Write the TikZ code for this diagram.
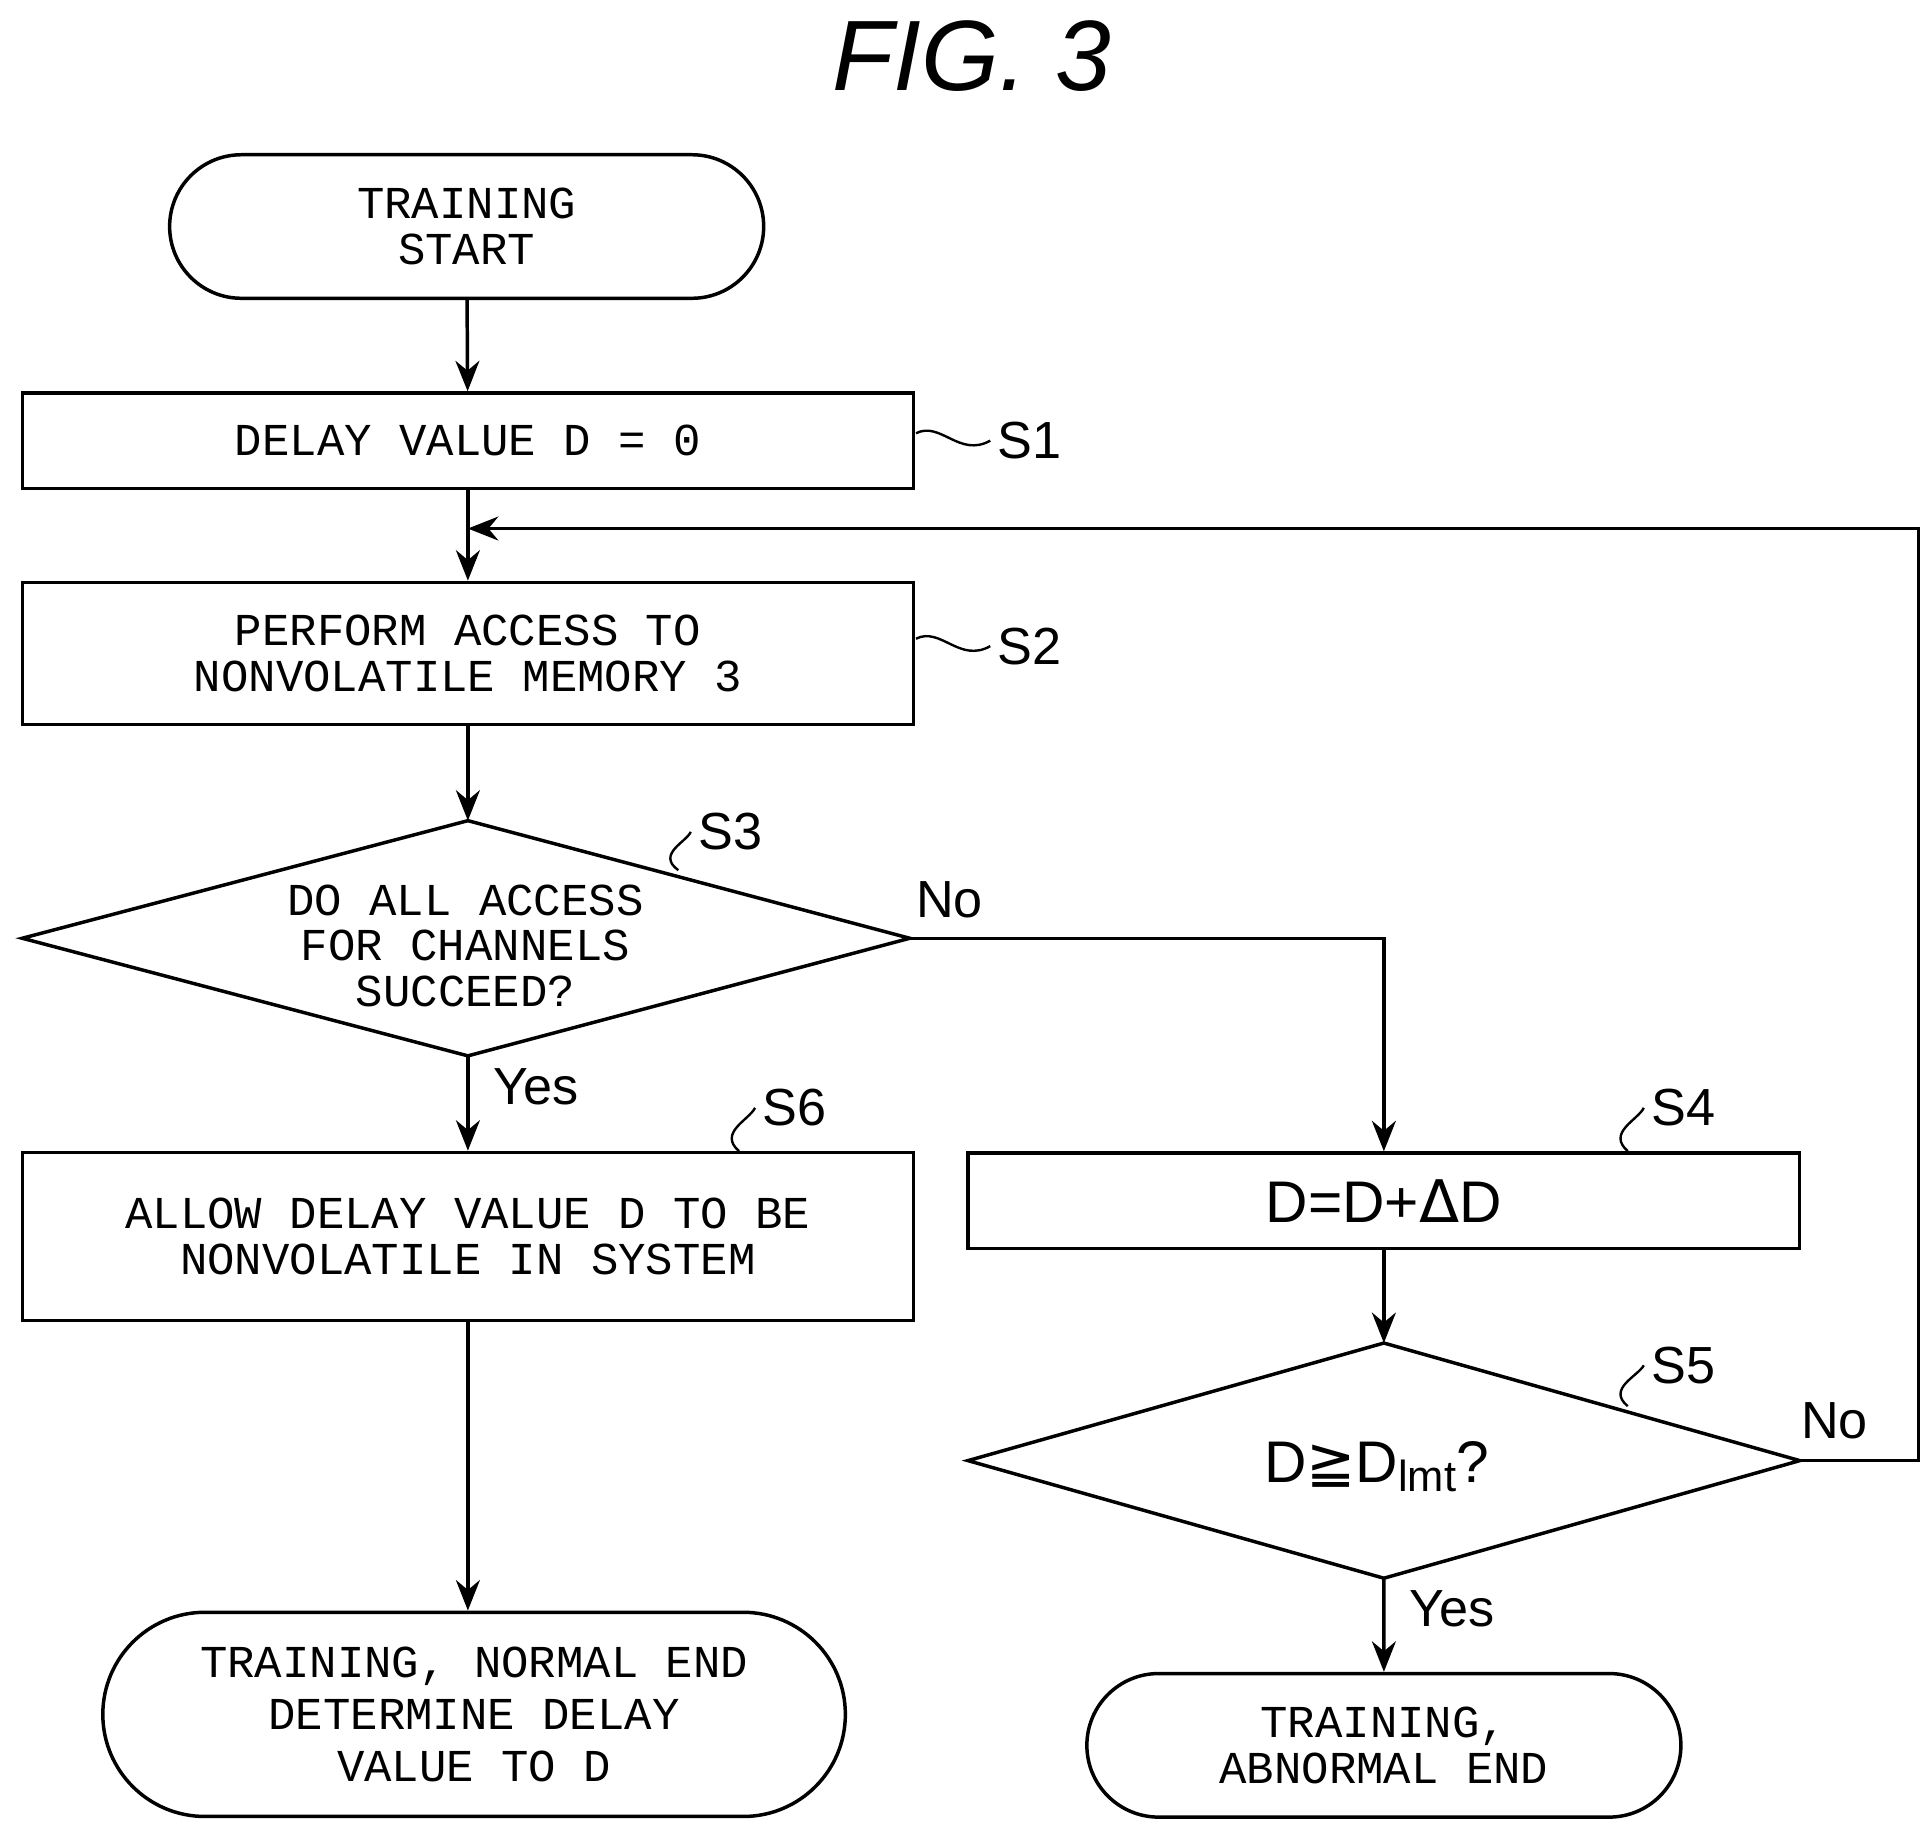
\documentclass[tikz,border=0pt]{standalone}
\usepackage{fontspec}
\setmainfont{Liberation Sans}
\newfontfamily\mono{Liberation Mono}
\newfontfamily\dvs{DejaVu Sans}
\usetikzlibrary{arrows.meta,shapes.misc}
\begin{document}
\begin{tikzpicture}[x=0.02cm,y=-0.02cm,
  box/.style={draw,line width=1.6pt,rectangle,align=center,font=\mono\fontsize{21}{21}\selectfont,inner sep=0pt},
  term/.style={box,rounded rectangle},
  lbl/.style={font=\fontsize{24}{28}\selectfont},
  con/.style={line width=1.6pt,-{Stealth[length=14pt,width=11pt]}},
  lin/.style={line width=1.6pt},
  tl/.style={line width=1.1pt}]
\useasboundingbox (0,0) rectangle (1560,1479);
\node[font=\itshape\fontsize{46}{50}\selectfont] (title) at (785,45) {FIG. 3};
\node[term,minimum width=9.6cm,minimum height=2.32cm] (start) at (377,183) {TRAINING\\START};
\node[box,minimum width=14.4cm,minimum height=1.54cm] (s1) at (378,356) {DELAY  VALUE  D  =  0};
\node[box,minimum width=14.4cm,minimum height=2.3cm] (s2) at (378,528) {PERFORM  ACCESS  TO\\NONVOLATILE  MEMORY  3};
% S3 diamond
\coordinate (s3n) at (378,663); \coordinate (s3s) at (378,853);
\coordinate (s3w) at (18,758); \coordinate (s3e) at (735,758);
\draw[lin] (s3n)--(s3e)--(s3s)--(s3w)--cycle;
\node[box,draw=none] (s3) at (376,764) {DO  ALL  ACCESS\\FOR  CHANNELS\\SUCCEED?};
\node[box,minimum width=14.4cm,minimum height=2.72cm] (s6) at (378,999) {ALLOW  DELAY  VALUE  D  TO  BE\\NONVOLATILE  IN  SYSTEM};
\node[term,minimum width=12cm,minimum height=3.3cm,font=\mono\fontsize{21}{24}\selectfont] (nend) at (383,1385) {TRAINING,  NORMAL  END\\DETERMINE  DELAY\\VALUE  TO  D};
\node[box,minimum width=13.44cm,minimum height=1.54cm,font=\fontsize{27}{30}\selectfont] (s4) at (1118,970) {D=D+{\dvs Δ}D};
% S5 diamond
\coordinate (s5n) at (1118,1085); \coordinate (s5s) at (1118,1275);
\coordinate (s5w) at (782,1180); \coordinate (s5e) at (1454,1180);
\draw[lin] (s5n)--(s5e)--(s5s)--(s5w)--cycle;
\node[font=\fontsize{27}{30}\selectfont] (s5) at (1112,1185) {D{\dvs ≧}D\raisebox{-0.3ex}{\fontsize{20}{22}\selectfont lmt}?};
\node[term,minimum width=9.6cm,minimum height=2.32cm] (aend) at (1118,1410) {TRAINING,\\ABNORMAL  END};
% connectors
\draw[con] (start) -- (s1);
\coordinate (j) at (378,427);
\draw[con] (s1) -- (s2);
\draw[con] (s2) -- (s3n);
\draw[con] (s3s) -- (s6);
\draw[con] (s6.south) -- (s6.south |- nend.north);
\draw[con] (s3e) -| (s4);
\draw[con] (s4) -- (s5n);
\draw[con] (s5s) -- (aend);
\coordinate (lc) at (1550,1180);
\draw[con] (s5e) -- (lc) |- (j);
% labels
\node[lbl] (no1) at (767,727) {No};
\node[lbl] (yes1) at (433,878) {Yes};
\node[lbl] (no2) at (1482,1148) {No};
\node[lbl] (yes2) at (1173,1300) {Yes};
\node[lbl,anchor=west] (l1) at (800,356) {S1};
\node[lbl,anchor=west] (l2) at (800,522) {S2};
\node[lbl,anchor=west] (l3) at (558,672) {S3};
\node[lbl,anchor=west] (l6) at (610,895) {S6};
\node[lbl,anchor=west] (l4) at (1328,895) {S4};
\node[lbl,anchor=west] (l5) at (1328,1103) {S5};
\draw[tl] (740,350) .. controls (760,340) and (775,370) .. (l1.west);
\draw[tl] (740,516) .. controls (760,506) and (775,536) .. (l2.west);
\draw[tl] (548,703) .. controls (530,690) and (555,680) .. (l3.west);
\draw[tl] (597,930) .. controls (580,915) and (605,905) .. (l6.west);
\draw[tl] (1315,930) .. controls (1298,915) and (1323,905) .. (l4.west);
\draw[tl] (1315,1136) .. controls (1298,1122) and (1323,1112) .. (l5.west);
\end{tikzpicture}
\end{document}
